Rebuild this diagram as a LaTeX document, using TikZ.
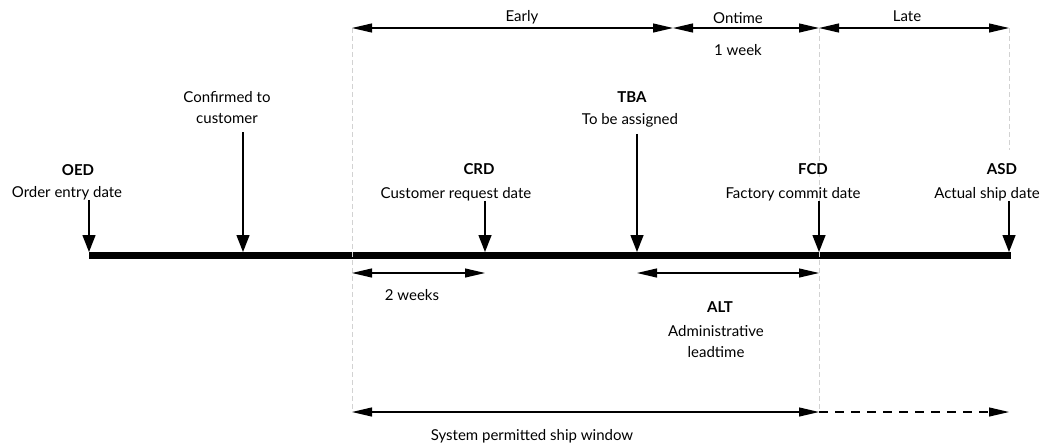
\documentclass[tikz,border=0pt]{standalone}
\usepackage{fontspec}
\setmainfont{Lato}
\usepackage{tikz}
\usetikzlibrary{arrows.meta,positioning,calc}

\tikzset{
	guide/.style={gray!35, line width=0.7pt, dash pattern=on 5pt off 3pt},
	pin/.style={line width=1.4pt, -{Triangle[length=17pt,width=13pt]}},
	span/.style={line width=1.1pt, {Triangle[length=20pt,width=9pt]}-{Triangle[length=20pt,width=9pt]}},
	lbl/.style={inner sep=0pt, anchor=base, font=\fontsize{15}{20.5}\selectfont},
	abbr/.style={lbl, font=\fontsize{15}{20.5}\selectfont\bfseries},
}

\begin{document}
\begin{tikzpicture}[x=1pt,y=-1pt]
		\useasboundingbox (0,0) rectangle (1044,445);
		% the time line and the dates on it
		\coordinate (bar w) at (89,255.5);
		\coordinate (bar e) at (1011,255.5);
		\coordinate (oed pt) at (89,252);
		\coordinate (conf pt) at (243,252);
		\coordinate (crd pt) at (485,252);
		\coordinate (tba pt) at (637,252);
		\coordinate (fcd pt) at (819,252);
		\coordinate (asd pt) at (1009,252);
		\draw[line width=6.5pt] (bar w) -- (bar e);
		
		% guide lines
		\coordinate (g1 top) at (352,28);
		\coordinate (g1 bot) at (352,412);
		\coordinate (g2 top) at (819,28);
		\coordinate (g2 bot) at (819,412);
		\coordinate (g3 top) at (1009,28);
		\coordinate (g3 bot) at (1009,150);
		\coordinate (mid top) at (673,28);
		\coordinate (win e) at (1009,412);
		\draw[guide] (g1 top) -- (g1 bot);
		\draw[guide] (g2 top) -- (g2 bot);
		\draw[guide] (g3 top) -- (g3 bot);
		
		% labels
		\node[abbr] (oed) at (78,175) {OED};
		\node[lbl] (oed txt) at (67,197) {Order entry date};
		\node[lbl, align=center] (conf) at (227,123) {Confirmed to\\customer};
		\node[abbr] (crd) at (479,174) {CRD};
		\node[lbl] (crd txt) at (456,198) {Customer request date};
		\node[abbr] (tba) at (632,102) {TBA};
		\node[lbl] (tba txt) at (630,124) {To be assigned};
		\node[abbr] (fcd) at (813,174) {FCD};
		\node[lbl] (fcd txt) at (793,198) {Factory commit date};
		\node[abbr] (asd) at (1002,174) {ASD};
		\node[lbl] (asd txt) at (987,198) {Actual ship date};
		
		\draw[pin] (oed txt.south -| oed pt) -- (oed pt);
		\draw[pin] ([yshift=-9pt]conf.south -| conf pt) -- (conf pt);
		\draw[pin] (crd txt.south -| crd pt) -- (crd pt);
		\draw[pin] ([yshift=-7pt]tba txt.south -| tba pt) -- (tba pt);
		\draw[pin] (fcd txt.south -| fcd pt) -- (fcd pt);
		\draw[pin] (asd txt.south -| asd pt) -- (asd pt);
		
		% early / ontime / late
		\draw[span] (g1 top) -- (mid top);
		\draw[span] (mid top) -- (g2 top);
		\draw[span] (g2 top) -- (g3 top);
		\node[lbl] (early) at (522,21) {Early};
		\node[lbl] (ontime) at (738,23) {Ontime};
		\node[lbl] (late) at (907,21) {Late};
		\node[lbl] (week) at (738,55) {1 week};
		
		% spans under the line
		\coordinate (weeks w) at (352,273);
		\coordinate (weeks e) at (485,273);
		\coordinate (alt w) at (637,273);
		\coordinate (alt e) at (819,273);
		\draw[span] (weeks w) -- (weeks e);
		\draw[span] (alt w) -- (alt e);
		\node[lbl] (weeks) at (412,300) {2 weeks};
		\node[abbr] (alt) at (720,312) {ALT};
		\node[lbl, align=center] (alt txt) at (716,357) {Administrative\\leadtime};
		
		% ship window
		\draw[span] (g1 bot) -- (g2 bot);
		\draw[line width=1.1pt, dash pattern=on 9pt off 7pt, -{Triangle[length=20pt,width=9pt]}] (g2 bot) -- (win e);
		\node[lbl] (window) at (532,440) {System permitted ship window};
	\end{tikzpicture}
\end{document}
